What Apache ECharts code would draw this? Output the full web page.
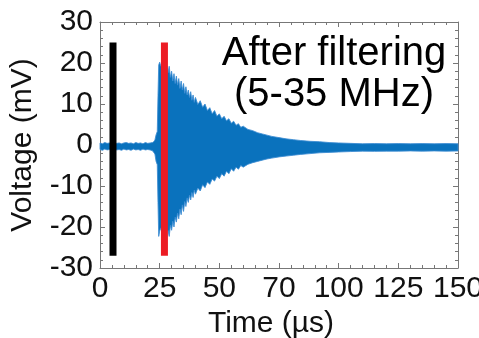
<!DOCTYPE html>
<html>
<head>
<meta charset="utf-8">
<script src="https://cdn.jsdelivr.net/npm/echarts@6/dist/echarts.min.js"></script>
<style>html,body{margin:0;padding:0;background:#fff;}#c{width:479px;height:338px;}</style>
</head>
<body>
<div id="c"></div>
<script>
const time = [0,1,2,3,4,5,6,7,8,9,10,11,12,13,14,15,16,17,18,19,20,21,22,
  22.5,23,23.5,24,24.3,24.6,25,25.5,26,26.5,27,27.5,28,28.5,29,29.5,30,30.5,31,31.5,32,32.5,33,33.5,34,34.5,35,35.5,36,36.5,37,37.5,38,38.5,39,39.5,40,
  41,42,43,44,45,46,47,48,49,50,51,52,53,54,55,56,57,58,59,60,
  62,64,66,68,70,72,75,78,81,84,88,92,96,100,105,110,115,120,125,130,135,140,145,150];
const upper = [0.5,0.3,0.6,0.4,0.5,0.3,0.6,0.4,0.5,0.3,0.5,0.6,0.4,0.5,0.3,0.6,0.4,0.5,0.3,0.6,0.4,0.5,0.6,
  0.8,1.2,2.5,3.3,12,19.5,20.2,19.2,20,18.6,19.5,18,19.2,17.6,19.2,16.5,18,15.6,17.4,15,16.8,14.6,16.2,13.8,15.6,13.4,15,12.6,14.2,12.2,13.4,11.6,13,10.9,12.2,10.4,11.6,
  9.9,10.8,9.2,10,8.4,9.1,7.6,8.4,7.0,7.6,6.4,7.0,5.9,6.4,5.3,5.8,4.8,5.2,4.3,4.6,
  3.8,3.5,3.0,2.7,2.4,2.1,1.8,1.5,1.3,1.1,0.9,0.8,0.6,0.5,0.4,0.3,0.35,0.3,0.35,0.3,0.35,0.3,0.35,0.3];
const lower = [-1.1,-1.3,-1.0,-1.2,-1.1,-1.3,-1.0,-1.2,-1.1,-1.3,-1.0,-1.2,-1.1,-1.3,-1.0,-1.2,-1.1,-1.3,-1.0,-1.2,-1.1,-1.2,-1.4,
  -1.8,-2.2,-4,-4.8,-14,-22.3,-21,-20.2,-21.5,-19.6,-21,-19.5,-21,-20.8,-22.3,-19.6,-20.8,-18.6,-20,-17.6,-18.8,-16.6,-18,-15.6,-17,-14.6,-16.2,-13.8,-15,-12.9,-14,-12.2,-13.4,-11.6,-12.8,-11,-12,
  -10.5,-11.2,-9.7,-10.4,-9.0,-9.6,-8.3,-8.8,-7.6,-8.2,-7.0,-7.6,-6.4,-7.0,-5.8,-6.4,-5.4,-5.9,-5.0,-5.4,
  -4.7,-4.3,-4.0,-3.7,-3.4,-3.2,-2.9,-2.7,-2.5,-2.3,-2.1,-1.9,-1.8,-1.7,-1.6,-1.5,-1.55,-1.5,-1.5,-1.45,-1.5,-1.45,-1.5,-1.45];
// Marker bars: [time, bottom, top]
const blackBar = [5.45, -27, 25];
const redBar = [27, -27, 25];
const xTickValues = [0,25,50,75,100,125,150];
const xTickLabels = ['0','25','50','70','100','125','150'];
const yTicks = [-30,-20,-10,0,10,20,30];

const FONT = "'Liberation Sans', Arial, sans-serif";
const axisCol = '#777';
const chart = echarts.init(document.getElementById('c'), null, {renderer:'canvas'});
const commonAxis = {
  axisLine:{show:true, onZero:false, lineStyle:{color:axisCol, width:1}},
  axisTick:{show:true, inside:true, length:5, lineStyle:{color:axisCol}},
  minorTick:{show:true, splitNumber:5, length:3, lineStyle:{color:axisCol}},
  splitLine:{show:false}
};
chart.setOption({
  animation:false,
  backgroundColor:'#fff',
  grid:{left:100, right:21, top:22, bottom:70, containLabel:false, outerBoundsMode:'none'},
  xAxis:[
    Object.assign({type:'value', min:0, max:150, interval:25, position:'bottom',
      name:'Time (µs)', nameLocation:'middle', nameGap:35,
      nameTextStyle:{fontFamily:FONT, fontSize:30, color:'#111', padding:[0,16,0,0]},
      axisLabel:{fontFamily:FONT, fontSize:30, color:'#111', margin:6,
        formatter:v=>{const i=xTickValues.indexOf(v); return i>=0?xTickLabels[i]:'';}}}, commonAxis),
    Object.assign({type:'value', min:0, max:150, interval:25, position:'top', axisLabel:{show:false}}, commonAxis)
  ],
  yAxis:[
    Object.assign({type:'value', min:-30, max:30, interval:10, position:'left',
      name:'Voltage (mV)', nameLocation:'middle', nameGap:62,
      nameTextStyle:{fontFamily:FONT, fontSize:30, color:'#111'},
      axisLabel:{fontFamily:FONT, fontSize:30, color:'#111', margin:7,
        formatter:v=>yTicks.indexOf(v)>=0?String(v):''}}, commonAxis),
    Object.assign({type:'value', min:-30, max:30, interval:10, position:'right', axisLabel:{show:false}}, commonAxis)
  ],
  graphic:[{
    type:'text', x:334, y:33, z:100,
    style:{text:'After filtering\n(5-35 MHz)', x:0, y:0, align:'center', verticalAlign:'top',
      fontFamily:FONT, fontSize:40, lineHeight:41, fill:'#000'}
  }],
  series:[
    {
      type:'custom', coordinateSystem:'cartesian2d', data:[[0,0]], z:2, silent:true,
      renderItem:function(params, api){
        const pts=[];
        for(let i=0;i<time.length;i++) pts.push(api.coord([time[i], upper[i]]));
        for(let i=time.length-1;i>=0;i--) pts.push(api.coord([time[i], lower[i]]));
        return {type:'polygon', shape:{points:pts},
          style:{fill:'#0a72bd', stroke:'rgba(60,140,210,0.85)', lineWidth:1, lineJoin:'miter'}};
      }
    },
    {type:'line', data:[[blackBar[0],blackBar[1]],[blackBar[0],blackBar[2]]], showSymbol:false, symbol:'none', z:3,
      lineStyle:{color:'#000', width:7, cap:'butt'}},
    {type:'line', data:[[redBar[0],redBar[1]],[redBar[0],redBar[2]]], showSymbol:false, symbol:'none', z:4,
      lineStyle:{color:'#ec1c24', width:7, cap:'butt'}}
  ]
});
</script>
</body>
</html>
